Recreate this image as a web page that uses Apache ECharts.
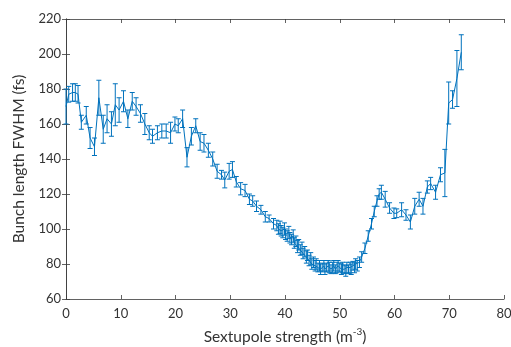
<!DOCTYPE html>
<html>
<head>
<meta charset="utf-8">
<script src="https://cdn.jsdelivr.net/npm/echarts@6/dist/echarts.min.js"></script>
<style>
html,body{margin:0;padding:0;background:#fff;}
#chart{width:511px;height:347px;}
</style>
</head>
<body>
<div id="chart"></div>
<script>
// Sextupole strength (m^-3)
const xValues = [
  0.0, 0.5, 1.2, 1.7, 2.2, 2.8, 3.7, 4.4, 5.2, 6.0, 6.8, 7.5, 8.3, 9.0, 9.7, 10.5, 11.3, 12.1, 12.8, 13.6,
  14.4, 15.2, 15.8, 16.7, 17.5, 18.3, 19.1, 19.9, 20.5, 21.3, 22.1, 22.9, 23.7, 24.5, 25.2, 26.0, 26.8, 27.6,
  28.4, 29.0, 29.8, 30.4, 31.1, 31.9, 32.7, 33.5, 34.1, 34.8, 35.6, 36.4, 37.1, 37.9,
  38.5, 38.8, 39.1, 39.3, 39.6, 39.9, 40.1, 40.4, 40.7, 40.9, 41.2, 41.5, 41.7, 42.0, 42.3, 42.5, 42.8, 43.1,
  43.3, 43.6, 43.9, 44.1, 44.4, 44.7, 44.9, 45.2, 45.5, 45.7, 46.0, 46.3, 46.5, 46.8, 47.1, 47.3, 47.6, 47.9,
  48.1, 48.4, 48.7, 48.9, 49.2, 49.5, 49.7, 50.0, 50.3, 50.5, 50.8, 51.1, 51.3, 51.6, 51.9, 52.1, 52.4, 52.7,
  52.9, 53.2,
  53.6, 54.0, 54.6, 55.2, 55.8, 56.3, 56.8, 57.2, 57.6, 58.3, 59.1, 59.9, 60.4, 61.3, 62.1, 62.9, 63.7, 64.5,
  65.2, 66.0, 66.6, 67.5, 68.4, 69.2, 69.9, 70.6, 71.4, 72.2
];
// Bunch length FWHM (fs)
const yValues = [
  170, 177, 178, 178, 177, 161, 165, 152, 147, 175, 157, 163, 160, 171, 168, 173, 163, 173, 170, 166,
  160, 155, 153, 155, 156, 156, 155, 160, 159, 163, 141, 153, 159, 150, 149, 145, 140, 133,
  131, 128, 133, 134, 127, 123, 122, 117, 116, 113, 111, 107, 106, 103,
  102, 100, 101, 99, 98, 100, 97, 96, 98, 95, 94, 96, 92, 93, 90, 91, 88, 89,
  86, 87, 84, 85, 82, 83, 80, 81, 79, 80, 78, 79, 77, 78, 79, 77, 78, 79,
  78, 77, 78, 79, 77, 78, 79, 78, 77, 78, 77, 76, 78, 77, 78, 77, 79, 78,
  80, 79,
  81, 84, 89, 96, 103, 110, 116, 120, 121, 117, 112, 109, 109, 111, 108, 104, 113, 117,
  113, 124, 126, 121, 131, 132, 172, 174, 186, 201
];
// half-length of the error bars (fs)
const errValues = [
  10, 4.5, 5, 5, 5, 4, 5, 6, 5, 10, 8, 8, 7, 12, 7, 6, 5, 5, 5, 5,
  6, 4, 4, 4, 4, 4, 6, 4, 4, 5, 5.5, 5, 4, 5, 5, 4, 4, 4,
  2.5, 4.5, 4.5, 4.5, 3, 3.5, 3.5, 3, 3, 3, 2.5, 3, 2, 3,
  3, 3, 3.5, 3, 3, 3.5, 3, 3, 3.5, 3, 3, 3.5, 3, 3, 3.5, 3, 3, 3.5,
  3, 3, 3.5, 3, 3, 3.5, 3, 3, 3, 3, 2.5, 3, 3, 2.5, 3, 3, 2.5, 3,
  3, 2.5, 3, 3, 2.5, 3, 3, 2.5, 3, 3, 2.5, 3, 3, 2.5, 3, 3, 2.5, 3,
  3, 3,
  3, 3, 3, 3, 3, 3, 3, 3, 4, 4.5, 3, 3, 2.5, 4, 3, 4, 4.5, 4,
  4.5, 3.5, 3.5, 4, 4, 13.5, 12, 5, 16, 10
];
const xTicks = [0, 10, 20, 30, 40, 50, 60, 70, 80];
const yTicks = [60, 80, 100, 120, 140, 160, 180, 200, 220];

const lineColor = '#0072BD';
const textColor = '#333333';
const axisColor = '#3a3a3a';
const fontFam = 'Lato';

const lineData = xValues.map((x, i) => [x, yValues[i]]);
const errData = xValues.map((x, i) => [x, yValues[i] - errValues[i], yValues[i] + errValues[i]]);

const chart = echarts.init(document.getElementById('chart'), null, {renderer: 'canvas'});

const baseAxis = {
  axisLine: {show: true, lineStyle: {color: axisColor, width: 0.8}},
  axisTick: {show: true, inside: true, length: 4, lineStyle: {color: axisColor, width: 0.8}},
  splitLine: {show: false},
};

chart.setOption({
  animation: false,
  backgroundColor: '#fff',
  grid: {left: 66, right: 7, top: 19, bottom: 48, containLabel: false, outerBoundsMode: 'none'},
  xAxis: [
    Object.assign({}, baseAxis, {
      type: 'value', min: xTicks[0], max: xTicks[xTicks.length - 1], interval: 10,
      position: 'bottom',
      axisLabel: {color: textColor, fontSize: 13, fontFamily: fontFam, margin: 8},
      name: 'Sextupole strength (m{sup|-3})',
      nameLocation: 'middle', nameGap: 28,
      nameTextStyle: {
        color: textColor, fontSize: 15.5, fontFamily: fontFam,
        rich: {sup: {fontSize: 10, verticalAlign: 'bottom', padding: [0, 0, 9, 0], color: textColor, fontFamily: fontFam}}
      }
    }),
    Object.assign({}, baseAxis, {
      type: 'value', min: xTicks[0], max: xTicks[xTicks.length - 1], interval: 10,
      position: 'top', axisLabel: {show: false}
    })
  ],
  yAxis: [
    Object.assign({}, baseAxis, {
      type: 'value', min: yTicks[0], max: yTicks[yTicks.length - 1], interval: 20,
      position: 'left',
      axisLabel: {color: textColor, fontSize: 13, fontFamily: fontFam, margin: 5},
      name: 'Bunch length FWHM (fs)',
      nameLocation: 'middle', nameGap: 33,
      nameTextStyle: {color: textColor, fontSize: 15.5, fontFamily: fontFam}
    }),
    Object.assign({}, baseAxis, {
      type: 'value', min: yTicks[0], max: yTicks[yTicks.length - 1], interval: 20,
      position: 'right', axisLabel: {show: false}
    })
  ],
  series: [
    {
      type: 'line',
      data: lineData,
      showSymbol: false,
      lineStyle: {color: lineColor, width: 1},
      z: 3
    },
    {
      type: 'custom',
      data: errData,
      z: 4,
      renderItem: function (params, api) {
        const x = api.value(0);
        const lo = api.coord([x, api.value(1)]);
        const hi = api.coord([x, api.value(2)]);
        const w = 2.5;
        const st = {stroke: lineColor, lineWidth: 1};
        return {
          type: 'group',
          children: [
            {type: 'line', shape: {x1: hi[0], y1: hi[1], x2: lo[0], y2: lo[1]}, style: st},
            {type: 'line', shape: {x1: hi[0] - w, y1: hi[1], x2: hi[0] + w, y2: hi[1]}, style: st},
            {type: 'line', shape: {x1: lo[0] - w, y1: lo[1], x2: lo[0] + w, y2: lo[1]}, style: st}
          ]
        };
      }
    }
  ]
});
</script>
</body>
</html>
